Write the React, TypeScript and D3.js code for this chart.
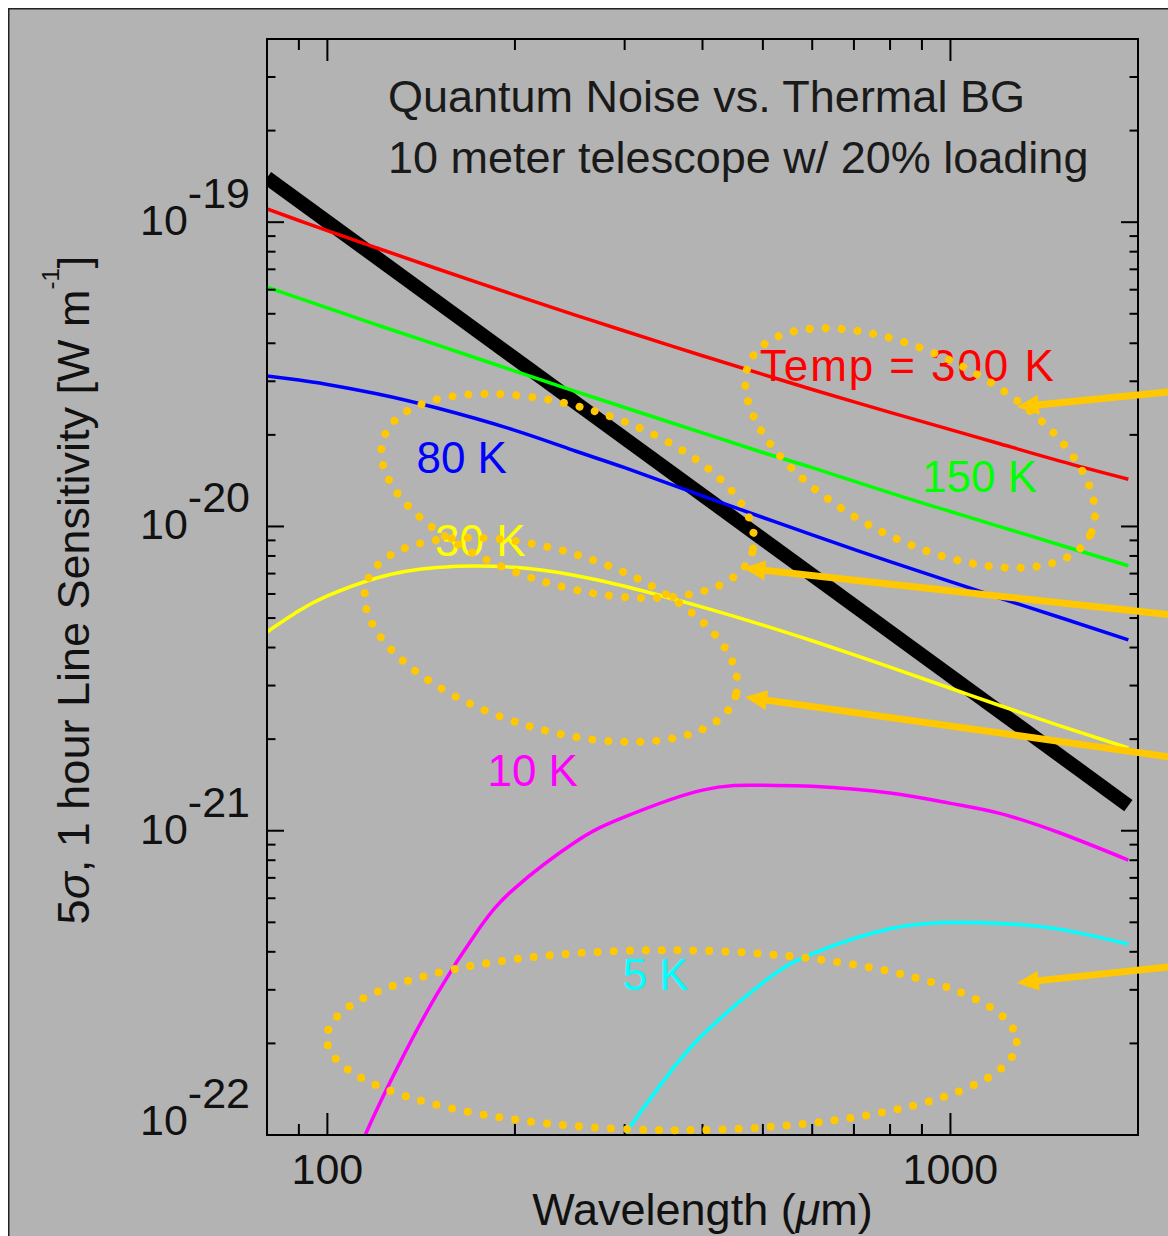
import React from 'react';
import * as d3 from 'd3';

// ---------- data (wavelength in micron, 5-sigma 1-hour line sensitivity in W m^-1) ----------
const wavelengths = [80, 90, 100, 120, 150, 200, 250, 300, 400, 500, 600, 800, 1000, 1200, 1500, 1930];
const temp300K = [1.105e-19, 1.013e-19, 9.38e-20, 8.23e-20, 7.03e-20, 5.76e-20, 4.95e-20, 4.39e-20, 3.64e-20, 3.16e-20, 2.82e-20, 2.37e-20, 2.08e-20, 1.87e-20, 1.64e-20, 1.43e-20];
const temp150K = [6.12e-20, 5.63e-20, 5.23e-20, 4.6e-20, 3.95e-20, 3.24e-20, 2.78e-20, 2.46e-20, 2.03e-20, 1.75e-20, 1.56e-20, 1.29e-20, 1.12e-20, 9.99e-21, 8.69e-21, 7.43e-21];
const temp80K = [3.12e-20, 3.03e-20, 2.93e-20, 2.73e-20, 2.45e-20, 2.07e-20, 1.77e-20, 1.56e-20, 1.26e-20, 1.07e-20, 9.38e-21, 7.66e-21, 6.59e-21, 5.82e-21, 5.02e-21, 4.24e-21];
const temp30K = [4.5e-21, 5.28e-21, 5.91e-21, 6.77e-21, 7.33e-21, 7.34e-21, 6.9e-21, 6.36e-21, 5.43e-21, 4.74e-21, 4.21e-21, 3.45e-21, 2.94e-21, 2.58e-21, 2.21e-21, 1.87e-21];
const wavelengths10K = [115, 120, 130, 150, 175, 200, 250, 300, 400, 500, 600, 800, 1000, 1200, 1500, 1930];
const temp10K = [1.0e-22, 1.21e-22, 1.69e-22, 2.91e-22, 4.75e-22, 6.48e-22, 9.18e-22, 1.11e-21, 1.36e-21, 1.41e-21, 1.4e-21, 1.33e-21, 1.23e-21, 1.14e-21, 9.83e-22, 8.01e-22];
const wavelengths5K = [300, 320, 350, 400, 500, 600, 800, 1000, 1200, 1500, 1930];
const temp5K = [1.0e-22, 1.21e-22, 1.55e-22, 2.13e-22, 3.17e-22, 3.94e-22, 4.76e-22, 4.99e-22, 4.96e-22, 4.74e-22, 4.24e-22];
const quantumWavelengths = [80, 1930];
const quantumNoise = [1.4e-19, 1.21e-21];

const seriesNames = ['300 K', '150 K', '80 K', '30 K', '10 K', '5 K'];
const seriesColors = ['#ff0000', '#00ff00', '#0000ff', '#ffff00', '#ff00ff', '#00ffff'];

// labels: text, anchor wavelength, anchor value
const labelTexts = ['Temp = 300 K', '150 K', '80 K', '30 K', '10 K', '5 K'];
const labelLambda = [498, 907, 140, 150, 182, 300];
const labelValue = [3.01e-20, 1.3e-20, 1.5e-20, 8.0e-21, 1.4e-21, 3.0e-22];

// highlight ellipses (centre in data space)
const ellipseLambda = [894, 243, 228.5, 357];
const ellipseValue = [1.81e-20, 1.26e-20, 4.24e-21, 2.05e-22];
const ellipseRx = [191, 193, 193, 345];
const ellipseRy = [92, 89, 89, 90];
const ellipseAngle = [27.3, 17, 17, 0.3];

// arrows: tip and tail in data space
const arrowTipLambda = [1278, 465, 468, 1278];
const arrowTipValue = [2.47e-20, 7.3e-21, 2.75e-21, 3.16e-22];
const arrowTailLambda = [2423, 2423, 2423, 2423];
const arrowTailValue = [2.81e-20, 5.04e-21, 1.71e-21, 3.63e-22];

const xDomain = [80, 2000];
const yDomain = [1e-22, 4e-19];

const titleLines = ['Quantum Noise vs. Thermal BG', '10 meter telescope w/ 20% loading'];

// ---------- layout ----------
const W = 1168;
const H = 1236;
const L = 267, T = 39, R = 1138, B = 1135;
const FONT = '"Liberation Sans", Arial, Helvetica, sans-serif';
const ORANGE = '#ffc800';
const BG = '#b3b3b3';

export default function App() {
  const x = d3.scaleLog().domain(xDomain).range([L, R]);
  const y = d3.scaleLog().domain(yDomain).range([B, T]);

  const line = d3
    .line<[number, number]>()
    .x((d) => x(d[0]))
    .y((d) => y(d[1]))
    .curve(d3.curveNatural);

  const seriesData: [number, number][][] = [
    wavelengths.map((w, i) => [w, temp300K[i]]),
    wavelengths.map((w, i) => [w, temp150K[i]]),
    wavelengths.map((w, i) => [w, temp80K[i]]),
    wavelengths.map((w, i) => [w, temp30K[i]]),
    wavelengths10K.map((w, i) => [w, temp10K[i]]),
    wavelengths5K.map((w, i) => [w, temp5K[i]]),
  ];
  const quantum: [number, number][] = quantumWavelengths.map((w, i) => [w, quantumNoise[i]]);

  // ticks
  const xTicks: { v: number; major: boolean }[] = [];
  for (let e = 1; e <= 3; e++)
    for (let m = 1; m <= 9; m++) {
      const v = m * Math.pow(10, e);
      if (v >= xDomain[0] * 0.9999 && v <= xDomain[1] * 1.0001) xTicks.push({ v, major: m === 1 });
    }
  const yTicks: { v: number; major: boolean; e: number }[] = [];
  for (let e = -22; e <= -19; e++)
    for (let m = 1; m <= 9; m++) {
      const v = m * Math.pow(10, e);
      if (v >= yDomain[0] * 0.9999 && v <= yDomain[1] * 1.0001) yTicks.push({ v, major: m === 1, e });
    }
  const xMaj = 22, xMin = 11, yMaj = 17, yMin = 8.5;

  return (
    <svg
      width={W}
      height={H}
      style={{ position: 'absolute', left: 0, top: 0, display: 'block' }}
      fontFamily={FONT}
    >
      <defs>
        <clipPath id="plotclip">
          <rect x={L} y={T} width={R - L} height={B - T} />
        </clipPath>
      </defs>
      <rect x={8.75} y={8.75} width={1300} height={1400} fill={BG} stroke="#222" strokeWidth={1.5} />

      {/* curves */}
      <g clipPath="url(#plotclip)">
        <path d={line(quantum) || ''} fill="none" stroke="#000" strokeWidth={14} strokeLinecap="butt" />
        {seriesData.map((s, i) => (
          <path key={seriesNames[i]} d={line(s) || ''} fill="none" stroke={seriesColors[i]} strokeWidth={3.5} />
        ))}
      </g>

      {/* frame */}
      <rect x={L} y={T} width={R - L} height={B - T} fill="none" stroke="#000" strokeWidth={2} />

      {/* x ticks */}
      {xTicks.map((t, i) => {
        const px = x(t.v);
        const len = t.major ? xMaj : xMin;
        return (
          <g key={'xt' + i} stroke="#000" strokeWidth={2}>
            <line x1={px} x2={px} y1={B} y2={B - len} />
            <line x1={px} x2={px} y1={T} y2={T + len} />
          </g>
        );
      })}
      {xTicks
        .filter((t) => t.major)
        .map((t, i) => (
          <text key={'xl' + i} x={x(t.v)} y={1184} textAnchor="middle" fontSize={43} fill="#111">
            {String(t.v)}
          </text>
        ))}

      {/* y ticks */}
      {yTicks.map((t, i) => {
        const py = y(t.v);
        const len = t.major ? yMaj : yMin;
        return (
          <g key={'yt' + i} stroke="#000" strokeWidth={2}>
            <line x1={L} x2={L + len} y1={py} y2={py} />
            <line x1={R} x2={R - len} y1={py} y2={py} />
          </g>
        );
      })}
      {yTicks
        .filter((t) => t.major)
        .map((t, i) => {
          const base = Math.min(y(t.v) + 13, B);
          return (
            <text key={'yl' + i} x={250} y={base} textAnchor="end" fontSize={43} fill="#111">
              10
              <tspan dy={-27}>{String(t.e)}</tspan>
            </text>
          );
        })}

      {/* axis titles */}
      <text x={(L + R) / 2} y={1225} textAnchor="middle" fontSize={45} fill="#111">
        Wavelength (<tspan fontStyle="italic">μ</tspan>m)
      </text>
      <text transform={`translate(89,${(T + B) / 2 + 3}) rotate(-90)`} textAnchor="middle" fontSize={45} fill="#111">
        5<tspan fontStyle="italic">σ</tspan>, 1 hour Line Sensitivity [W m
        <tspan fontSize={24} dy={-30}>-1</tspan>
        <tspan dy={30}>]</tspan>
      </text>

      {/* title */}
      {titleLines.map((s, i) => (
        <text key={'tt' + i} x={388} y={112 + i * 61} fontSize={45} fill="#1a1a1a">
          {s}
        </text>
      ))}

      {/* curve labels */}
      {labelTexts.map((s, i) =>
        i === 0 ? (
          <text
            key={'lb' + i}
            x={x(labelLambda[i]) - 2}
            y={y(labelValue[i])}
            fontSize={44}
            fill={seriesColors[i]}
            textLength={294}
            lengthAdjust="spacing"
          >
            {s}
          </text>
        ) : (
          <text key={'lb' + i} x={x(labelLambda[i]) - 2} y={y(labelValue[i])} fontSize={44} fill={seriesColors[i]}>
            {s}
          </text>
        )
      )}

      {/* dotted ellipses */}
      {ellipseLambda.map((lam, i) => {
        const cx = x(lam);
        const cy = y(ellipseValue[i]);
        return (
          <ellipse
            key={'el' + i}
            cx={cx}
            cy={cy}
            rx={ellipseRx[i]}
            ry={ellipseRy[i]}
            transform={`rotate(${ellipseAngle[i]} ${cx} ${cy})`}
            fill="none"
            stroke={ORANGE}
            strokeWidth={8}
            strokeDasharray="0 16"
            strokeLinecap="round"
          />
        );
      })}

      {/* arrows */}
      {arrowTipLambda.map((lam, i) => {
        const tx = x(lam), ty = y(arrowTipValue[i]);
        const ex = x(arrowTailLambda[i]), ey = y(arrowTailValue[i]);
        const len = Math.hypot(ex - tx, ey - ty);
        const ux = (ex - tx) / len, uy = (ey - ty) / len;
        const nx = -uy, ny = ux;
        const hl = 22, hw = 10;
        const bx = tx + ux * hl, by = ty + uy * hl;
        const pts = `${tx},${ty} ${bx + nx * hw},${by + ny * hw} ${bx - nx * hw},${by - ny * hw}`;
        return (
          <g key={'ar' + i}>
            <line x1={tx + ux * 15} y1={ty + uy * 15} x2={ex} y2={ey} stroke={ORANGE} strokeWidth={7} />
            <polygon points={pts} fill={ORANGE} />
          </g>
        );
      })}
    </svg>
  );
}
